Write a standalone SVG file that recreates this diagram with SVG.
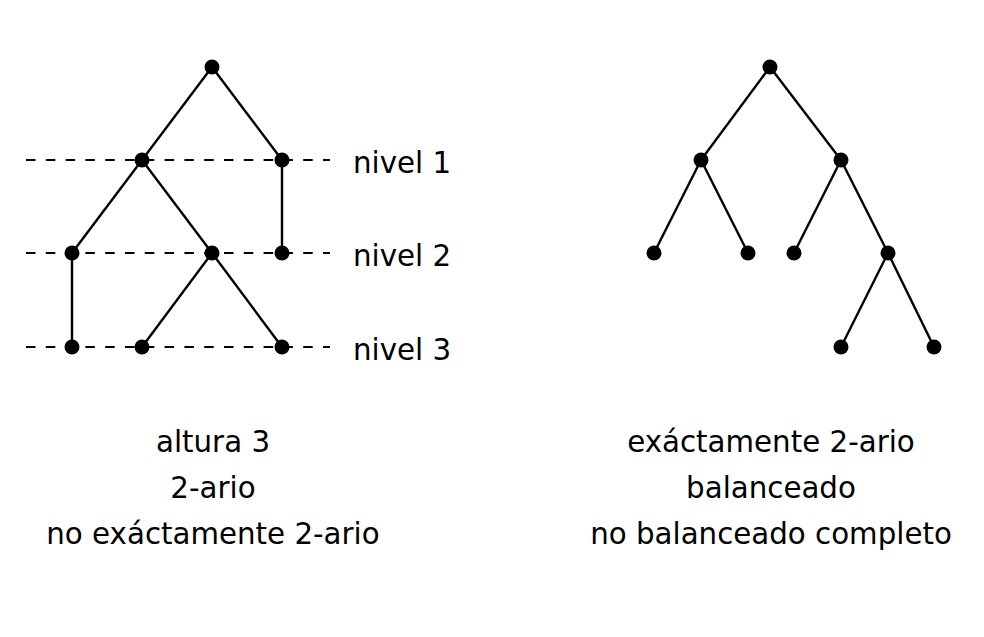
<svg xmlns="http://www.w3.org/2000/svg" width="984" height="637" viewBox="0 0 984 637">
<style>
.e{stroke:#000;stroke-width:2.4;fill:none}
.d{stroke:#000;stroke-width:2.2;stroke-dasharray:9.5 10.3;fill:none}
.n{fill:#000}
text{font-family:"DejaVu Sans",sans-serif;font-size:29.3px;fill:#000}
.c{text-anchor:middle}
</style>
<rect width="984" height="637" fill="#fff"/>
<g id="levels">
<line class="d" x1="26" y1="160" x2="330" y2="160"/>
<line class="d" x1="26" y1="253" x2="330" y2="253"/>
<line class="d" x1="26" y1="347" x2="330" y2="347"/>
<text id="nivel1" x="353" y="173">nivel 1</text>
<text id="nivel2" x="353" y="266">nivel 2</text>
<text id="nivel3" x="353" y="360">nivel 3</text>
</g>
<g id="connectors">
<line class="e" x1="212" y1="67" x2="142" y2="160"/>
<line class="e" x1="212" y1="67" x2="282" y2="160"/>
<line class="e" x1="142" y1="160" x2="72" y2="253"/>
<line class="e" x1="142" y1="160" x2="212" y2="253"/>
<line class="e" x1="282" y1="160" x2="282" y2="253"/>
<line class="e" x1="72" y1="253" x2="72" y2="347"/>
<line class="e" x1="212" y1="253" x2="142" y2="347"/>
<line class="e" x1="212" y1="253" x2="282" y2="347"/>
<line class="e" x1="770" y1="67" x2="701" y2="160"/>
<line class="e" x1="770" y1="67" x2="841" y2="160"/>
<line class="e" x1="701" y1="160" x2="654" y2="253"/>
<line class="e" x1="701" y1="160" x2="748" y2="253"/>
<line class="e" x1="841" y1="160" x2="794" y2="253"/>
<line class="e" x1="841" y1="160" x2="888" y2="253"/>
<line class="e" x1="888" y1="253" x2="841" y2="347"/>
<line class="e" x1="888" y1="253" x2="934" y2="347"/>
</g>
<g id="L0"><circle class="n" cx="212" cy="67" r="7.5"/></g>
<g id="L1a"><circle class="n" cx="142" cy="160" r="7.5"/></g>
<g id="L1b"><circle class="n" cx="282" cy="160" r="7.5"/></g>
<g id="L2a"><circle class="n" cx="72" cy="253" r="7.5"/></g>
<g id="L2b"><circle class="n" cx="212" cy="253" r="7.5"/></g>
<g id="L2c"><circle class="n" cx="282" cy="253" r="7.5"/></g>
<g id="L3a"><circle class="n" cx="72" cy="347" r="7.5"/></g>
<g id="L3b"><circle class="n" cx="142" cy="347" r="7.5"/></g>
<g id="L3c"><circle class="n" cx="282" cy="347" r="7.5"/></g>
<g id="R0"><circle class="n" cx="770" cy="67" r="7.5"/></g>
<g id="R1a"><circle class="n" cx="701" cy="160" r="7.5"/></g>
<g id="R1b"><circle class="n" cx="841" cy="160" r="7.5"/></g>
<g id="R2a"><circle class="n" cx="654" cy="253" r="7.5"/></g>
<g id="R2b"><circle class="n" cx="748" cy="253" r="7.5"/></g>
<g id="R2c"><circle class="n" cx="794" cy="253" r="7.5"/></g>
<g id="R2d"><circle class="n" cx="888" cy="253" r="7.5"/></g>
<g id="R3a"><circle class="n" cx="841" cy="347" r="7.5"/></g>
<g id="R3b"><circle class="n" cx="934" cy="347" r="7.5"/></g>
<g id="captions">
<text class="c" x="213" y="452">altura 3</text>
<text class="c" x="213" y="498">2-ario</text>
<text class="c" x="213" y="544">no exáctamente 2-ario</text>
<text class="c" x="771" y="452">exáctamente 2-ario</text>
<text class="c" x="771" y="498">balanceado</text>
<text class="c" x="771" y="544">no balanceado completo</text>
</g>
</svg>
